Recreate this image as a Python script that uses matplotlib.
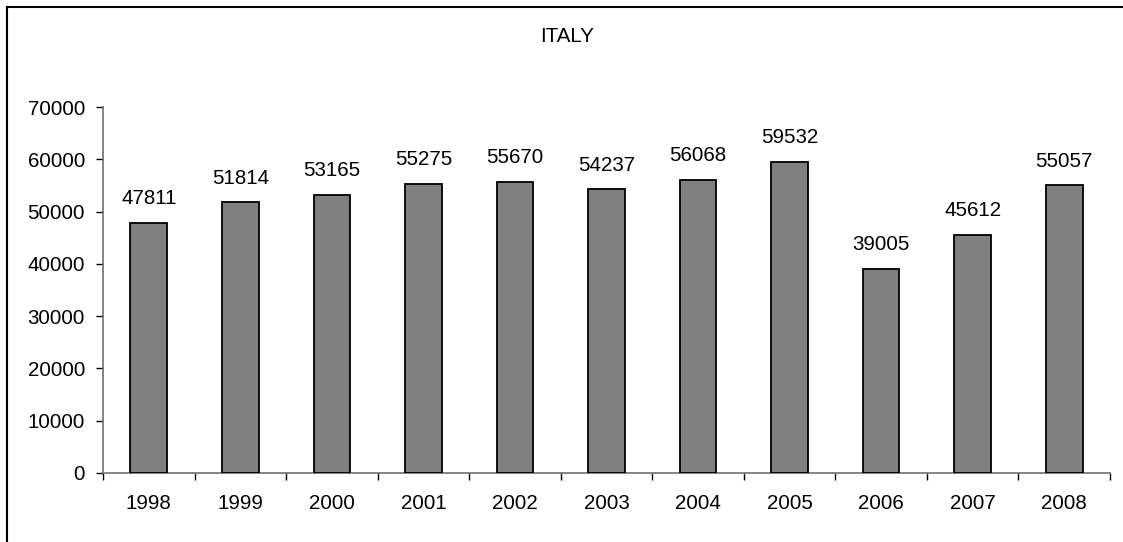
import matplotlib
matplotlib.use("Agg")
import matplotlib.pyplot as plt
from matplotlib.lines import Line2D
from matplotlib.ticker import FixedLocator

years = ["1998", "1999", "2000", "2001", "2002", "2003", "2004", "2005", "2006", "2007", "2008"]
values = [47811, 51814, 53165, 55275, 55670, 54237, 56068, 59532, 39005, 45612, 55057]
title = "ITALY"
yticks = [0, 10000, 20000, 30000, 40000, 50000, 60000, 70000]

plt.rcParams['font.family'] = ['Liberation Sans', 'DejaVu Sans']
FS = 14.8
W, H = 1123, 542
fig = plt.figure(figsize=(W / 100, H / 100), dpi=100)
ax = fig.add_axes([103 / W, 69 / H, (1110 - 103) / W, 366 / H])

x = list(range(len(years)))
ax.bar(x, values, width=0.40, color="#808080", edgecolor="black", linewidth=1.3, zorder=3)
for xi, v in zip(x, values):
    ax.annotate(str(v), (xi, v), xytext=(0, 10.5), textcoords="offset points",
                ha="center", va="bottom", fontsize=FS)

ax.set_xlim(-0.5, len(years) - 0.5)
ax.set_ylim(0, 70000)
ax.set_yticks(yticks)
ax.set_yticklabels([str(t) for t in yticks], fontsize=FS)
ax.set_xticks(x)
ax.set_xticklabels(years, fontsize=FS)
ax.xaxis.set_minor_locator(FixedLocator([i - 0.5 for i in range(len(years) + 1)]))
ax.tick_params(axis="x", which="major", length=0, pad=15)
ax.tick_params(axis="x", which="minor", length=5, width=1, color="black", direction="out")
ax.tick_params(axis="y", which="major", length=5, width=1, color="black", direction="out", pad=8)
for s in ["top", "right"]:
    ax.spines[s].set_visible(False)
for s in ["left", "bottom"]:
    ax.spines[s].set_color("#707070")
    ax.spines[s].set_linewidth(1.2)

fig.text(567 / W, 1 - 36 / H, title, ha="center", va="center", fontsize=FS)

bx, by = 6.5 / W, 1 - 6.5 / H
fig.add_artist(Line2D([bx, bx], [0, by], transform=fig.transFigure, color="black", linewidth=1.5))
fig.add_artist(Line2D([bx, 1], [by, by], transform=fig.transFigure, color="black", linewidth=1.5))

fig.savefig("out.png", dpi=100)
